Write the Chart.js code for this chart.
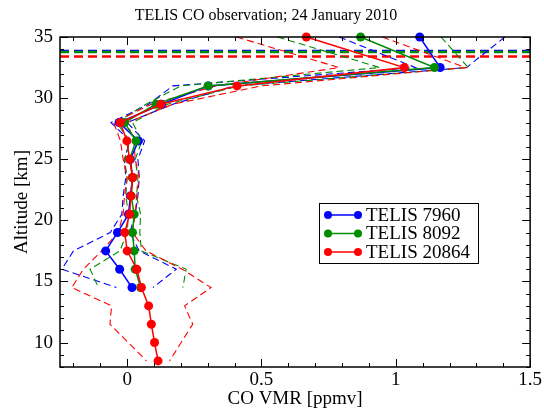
<!DOCTYPE html>
<html>
<head>
<meta charset="utf-8">
<title>TELIS CO observation</title>
<script src="https://cdn.jsdelivr.net/npm/chart.js@4.4.1/dist/chart.umd.min.js"></script>
<style>
  html, body { margin: 0; padding: 0; background: #fff; }
  #wrap { width: 544px; height: 410px; }
</style>
</head>
<body>
<div id="wrap"><canvas id="coChart" width="544" height="410"></canvas></div>
<script>
// Retrieval altitude grid [km], top to bottom
const altitudes = [35, 32.5, 31, 29.5, 28, 26.5, 25, 23.5, 22, 20.5, 19, 17.5, 16, 14.5, 13, 11.5, 10, 8.5];

// CO VMR [ppmv] per flight (only down to the lowest retrieved level)
const vmr7960  = [1.089, 1.165, 0.302, 0.128, -0.03, 0.042, 0.012, 0.02, 0.012, 0.005, -0.036, -0.08, -0.028, 0.018];
const vmr8092  = [0.869, 1.144, 0.301, 0.107, -0.01, 0.033, 0.009, 0.02, 0.015, 0.026, 0.02, 0.026, 0.03, 0.05];
const vmr20864 = [0.667, 1.032, 0.409, 0.125, -0.026, -0.001, 0.009, 0.021, 0.014, 0.009, -0.009, 0.0, 0.036, 0.053, 0.08, 0.09, 0.102, 0.115];

// Error envelopes (dashed), lower and upper bound
const low7960   = [0.789, 1.073, 0.17, 0.08, -0.06, 0.01, -0.01, -0.005, -0.015, -0.02, -0.063, -0.2, -0.243, -0.04];
const high7960  = [1.406, 1.263, 0.4, 0.17, 0.0, 0.065, 0.04, 0.045, 0.04, 0.03, 0.01, 0.045, 0.183, 0.096];
const low8092   = [0.56, 0.94, 0.2, 0.07, -0.04, 0.01, -0.01, 0.0, -0.005, 0.005, 0.0, -0.027, -0.138, -0.107];
const high8092  = [1.168, 1.27, 0.42, 0.15, 0.02, 0.055, 0.03, 0.04, 0.035, 0.05, 0.047, 0.053, 0.22, 0.207];
const low20864  = [0.407, 0.789, 0.33, 0.09, -0.05, -0.025, -0.015, 0.0, -0.01, -0.015, -0.033, -0.095, -0.163, -0.206, -0.058, -0.064, 0.004, 0.072];
const high20864 = [0.95, 1.26, 0.5, 0.17, 0.0, 0.025, 0.03, 0.045, 0.035, 0.03, 0.02, 0.07, 0.205, 0.312, 0.214, 0.244, 0.201, 0.158];

// Horizontal dashed levels [km] per flight
const levels = [33.86, 33.78, 33.4];

const labels = ['TELIS 7960', 'TELIS 8092', 'TELIS 20864'];
const colors = ['#0000ff', '#008c00', '#ff0000'];

const xTicks = [0, 0.5, 1, 1.5];
const yTicks = [10, 15, 20, 25, 30, 35];

const serif = "'Liberation Serif', 'Times New Roman', serif";

function profile(values) {
  return values.map((v, i) => ({ x: v, y: altitudes[i] }));
}

function mainSet(i, values) {
  return {
    label: labels[i],
    data: profile(values),
    borderColor: colors[i],
    backgroundColor: colors[i],
    borderWidth: 1.5,
    pointRadius: 4.5,
    pointBorderWidth: 0,
    pointHoverRadius: 4.5,
    clip: false,
    order: 10 - i
  };
}

function envSet(i, values) {
  return {
    label: '',
    data: profile(values),
    borderColor: colors[i],
    borderWidth: 1.1,
    borderDash: [7, 4],
    pointRadius: 0,
    clip: false,
    order: 20 - i
  };
}

function levelSet(i) {
  return {
    label: '',
    data: [{ x: -0.25, y: levels[i] }, { x: 1.5, y: levels[i] }],
    borderColor: colors[i],
    borderWidth: 2.5,
    borderDash: [9, 5],
    pointRadius: 0,
    order: 30 - i
  };
}

// Frame with inward ticks on all four sides
const framePlugin = {
  id: 'frame',
  afterDraw(chart) {
    const { ctx, chartArea: a, scales: { x, y } } = chart;
    ctx.save();
    ctx.strokeStyle = '#000';
    ctx.lineWidth = 1.5;
    ctx.strokeRect(a.left, a.top, a.right - a.left, a.bottom - a.top);
    ctx.lineWidth = 1;
    ctx.beginPath();
    for (let k = -2; k <= 15; k++) {
      const v = k / 10;
      const px = Math.round(x.getPixelForValue(v)) + 0.5;
      const len = k % 5 === 0 ? 8 : 4;
      ctx.moveTo(px, a.bottom); ctx.lineTo(px, a.bottom - len);
      ctx.moveTo(px, a.top); ctx.lineTo(px, a.top + len);
    }
    for (let v = 8; v <= 35; v++) {
      const py = Math.round(y.getPixelForValue(v)) + 0.5;
      const len = v % 5 === 0 ? 8 : 4;
      ctx.moveTo(a.left, py); ctx.lineTo(a.left + len, py);
      ctx.moveTo(a.right, py); ctx.lineTo(a.right - len, py);
    }
    ctx.stroke();
    ctx.restore();
  }
};

// Boxed legend inside the plot
const legendPlugin = {
  id: 'boxLegend',
  afterDraw(chart) {
    const { ctx } = chart;
    const bx = 319, by = 203, bw = 159, bh = 60;
    ctx.save();
    ctx.fillStyle = '#fff';
    ctx.fillRect(bx, by, bw, bh);
    ctx.strokeStyle = '#000';
    ctx.lineWidth = 1;
    ctx.strokeRect(bx + 0.5, by + 0.5, bw, bh);
    ctx.font = '19px ' + serif;
    ctx.textBaseline = 'middle';
    labels.forEach((lab, i) => {
      const ly = by + 12 + i * 18.5;
      ctx.strokeStyle = colors[i];
      ctx.fillStyle = colors[i];
      ctx.lineWidth = 1.5;
      ctx.beginPath();
      ctx.moveTo(328, ly); ctx.lineTo(358, ly);
      ctx.stroke();
      [328, 358].forEach(cx => {
        ctx.beginPath();
        ctx.arc(cx, ly, 4, 0, Math.PI * 2);
        ctx.fill();
      });
      ctx.fillStyle = '#000';
      ctx.fillText(lab, 366, ly + 1);
    });
    ctx.restore();
  }
};

const ctx = document.getElementById('coChart').getContext('2d');
new Chart(ctx, {
  type: 'line',
  data: {
    datasets: [
      mainSet(0, vmr7960), mainSet(1, vmr8092), mainSet(2, vmr20864),
      envSet(0, low7960), envSet(0, high7960),
      envSet(1, low8092), envSet(1, high8092),
      envSet(2, low20864), envSet(2, high20864),
      levelSet(0), levelSet(1), levelSet(2)
    ]
  },
  options: {
    responsive: false,
    animation: false,
    layout: { padding: { left: 0, right: 12, top: 0, bottom: 0 } },
    plugins: {
      legend: { display: false },
      tooltip: { enabled: false },
      title: {
        display: true,
        text: 'TELIS CO observation; 24 January 2010',
        color: '#000',
        font: { family: serif, size: 16, weight: 'normal' },
        padding: { top: 6, bottom: 11.8 }
      }
    },
    scales: {
      x: {
        type: 'linear',
        min: -0.25,
        max: 1.5,
        afterBuildTicks: s => { s.ticks = xTicks.map(v => ({ value: v })); },
        afterFit: s => { s.height = 43; },
        grid: { display: false, drawTicks: false },
        border: { display: false },
        ticks: {
          color: '#000',
          padding: 2,
          font: { family: serif, size: 19 },
          callback: v => String(v)
        },
        title: {
          display: true,
          text: 'CO VMR [ppmv]',
          color: '#000',
          font: { family: serif, size: 19 },
          padding: { top: 0, bottom: 0 }
        }
      },
      y: {
        type: 'linear',
        min: 8,
        max: 35,
        afterBuildTicks: s => { s.ticks = yTicks.map(v => ({ value: v })); },
        afterFit: s => { s.width = 60; },
        grid: { display: false, drawTicks: false },
        border: { display: false },
        ticks: {
          color: '#000',
          padding: 7,
          font: { family: serif, size: 19 },
          callback: v => String(v)
        },
        title: {
          display: true,
          text: 'Altitude [km]',
          color: '#000',
          font: { family: serif, size: 19 },
          padding: { top: 10.6, bottom: 0 }
        }
      }
    }
  },
  plugins: [framePlugin, legendPlugin]
});
</script>
</body>
</html>
